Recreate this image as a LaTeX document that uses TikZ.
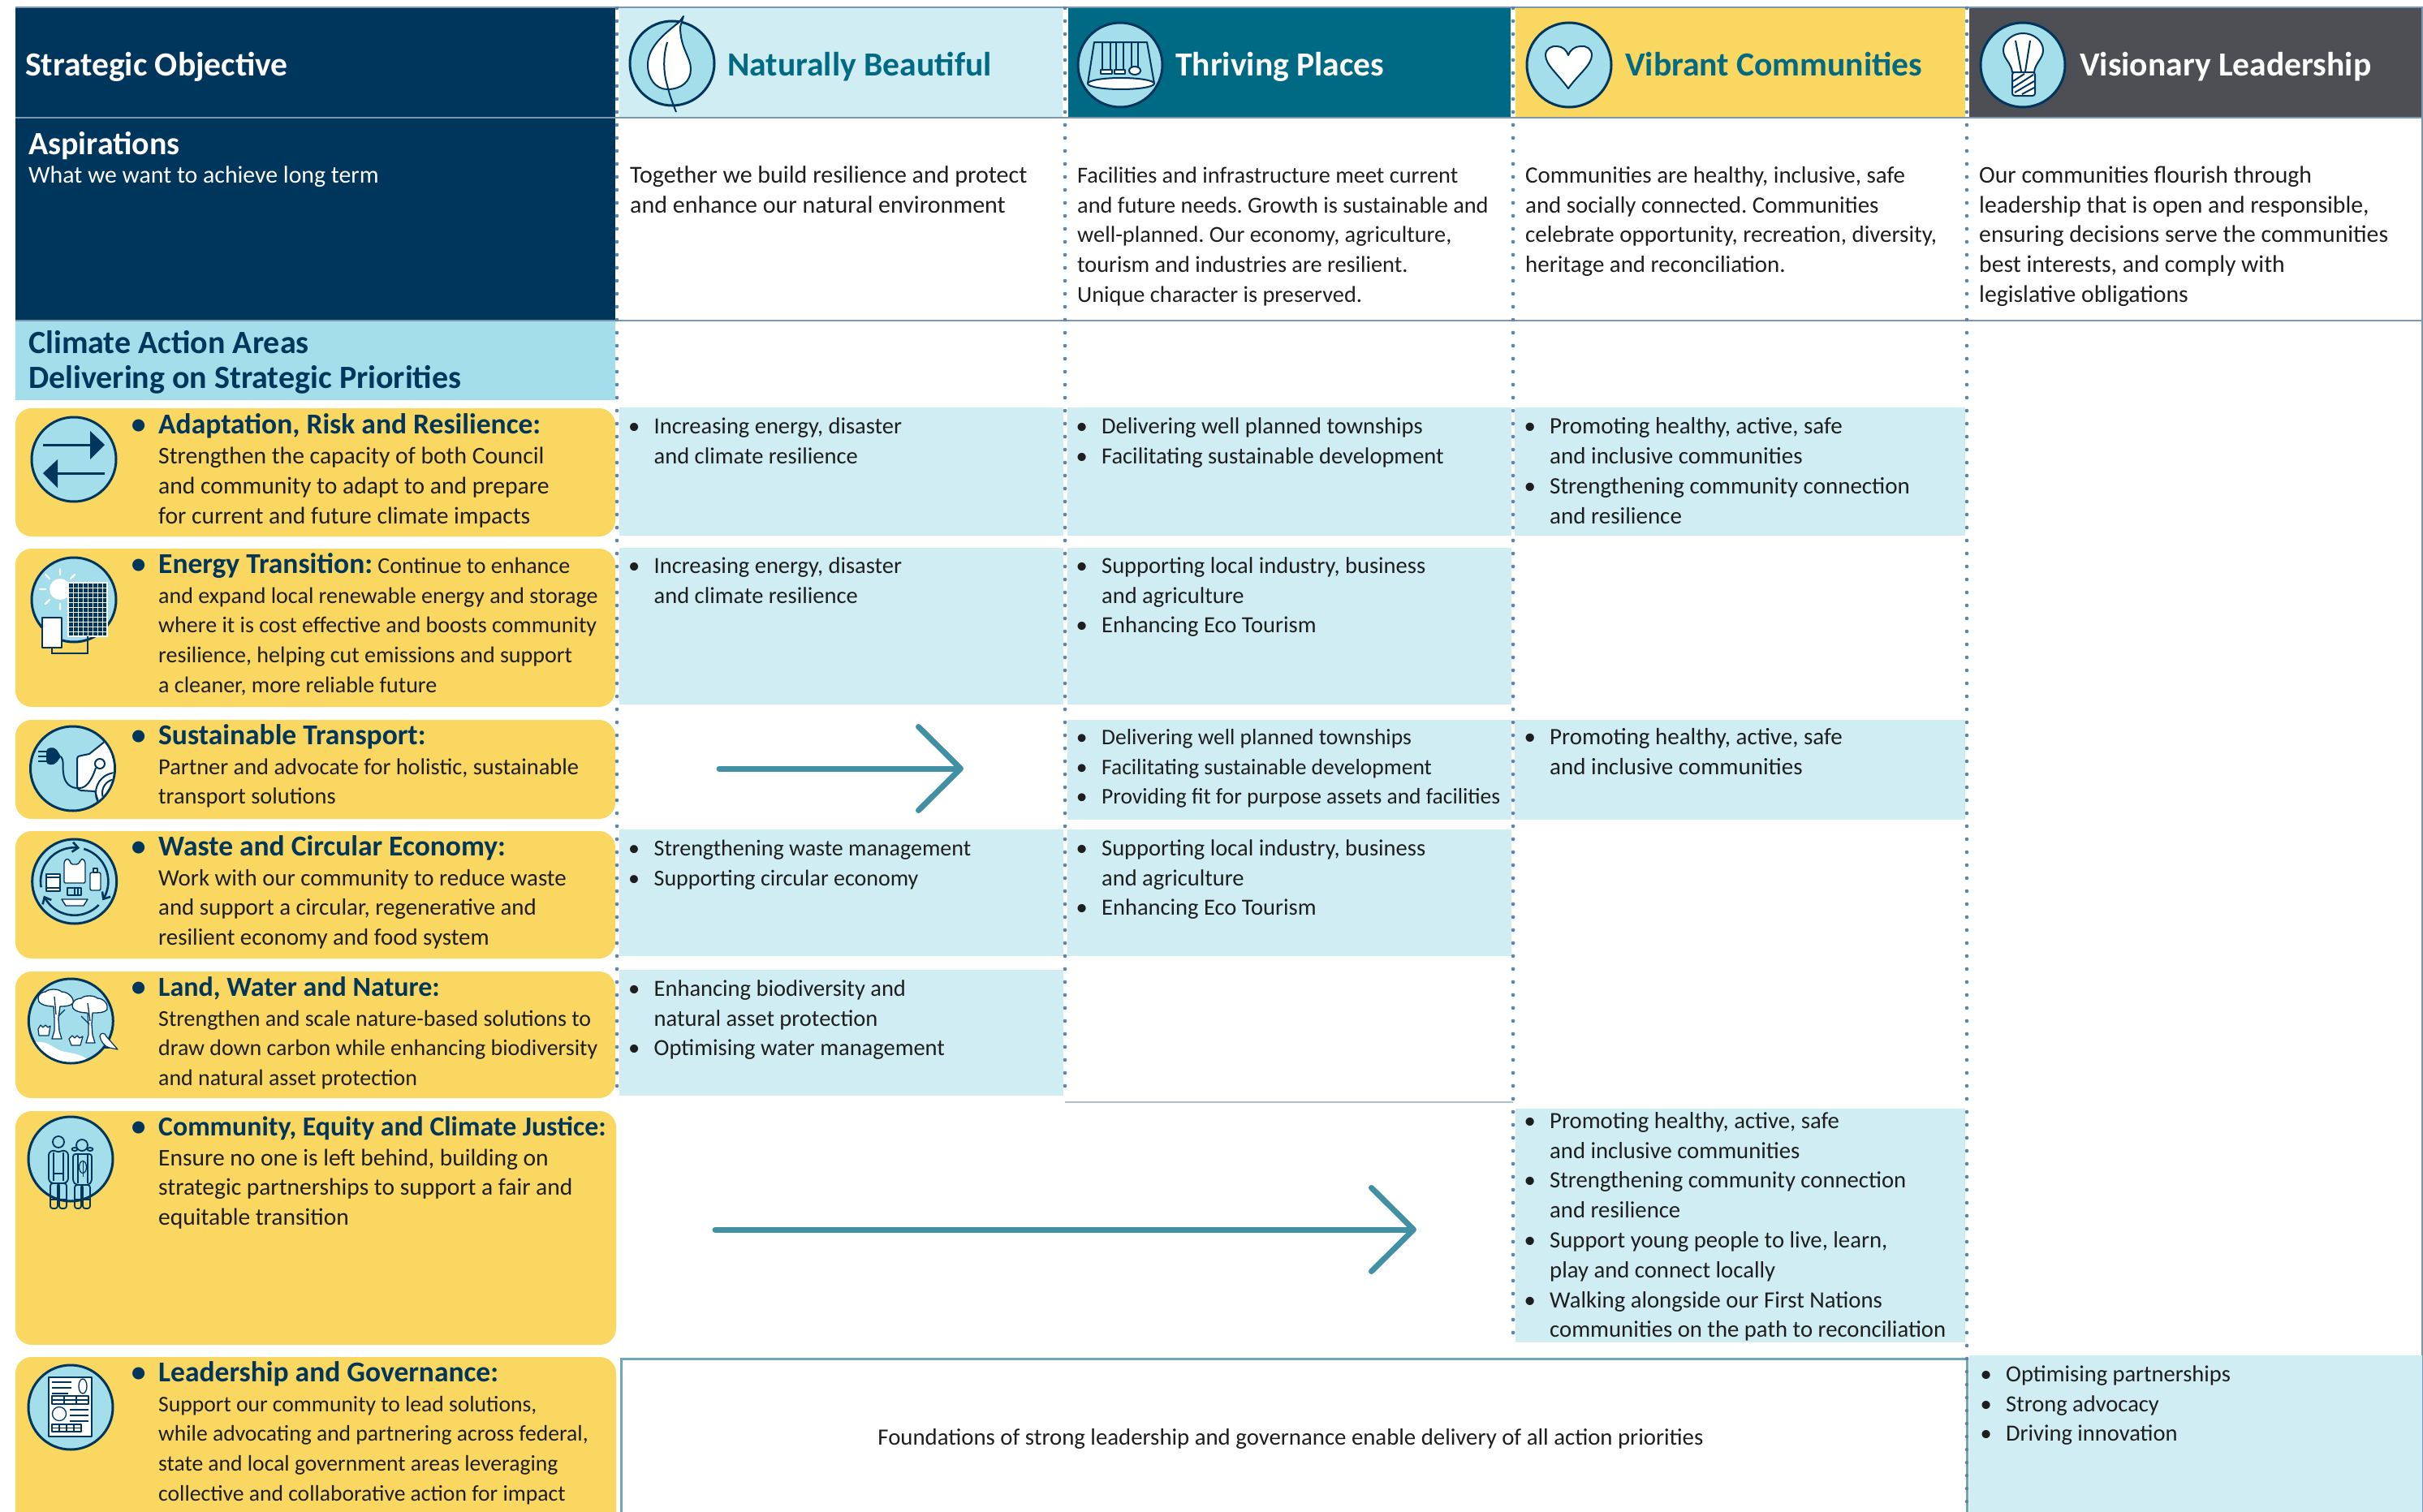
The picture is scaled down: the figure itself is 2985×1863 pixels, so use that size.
\documentclass[tikz,border=0pt]{standalone}
\usepackage{fontspec}
\setmainfont{Carlito}
\usetikzlibrary{arrows.meta}
\definecolor{navy}{HTML}{00355C}
\definecolor{band}{HTML}{A4DEEA}
\definecolor{pale}{HTML}{CFEDF3}
\definecolor{tealh}{HTML}{006A85}
\definecolor{yel}{HTML}{FAD760}
\definecolor{slate}{HTML}{4D4F54}
\definecolor{rule}{HTML}{7C98AE}
\definecolor{dotc}{HTML}{5F85A3}
\definecolor{arrc}{HTML}{4290A5}
\definecolor{boxl}{HTML}{6FA8BA}
\definecolor{ink}{HTML}{1E1E1E}
\newcommand\fs[1]{\fontsize{#1}{36.8}\selectfont}
\newcommand\fl{\rule{0pt}{30pt}}
\newcommand\hdf{\fontsize{35.5}{36.8}\selectfont\bfseries\color{navy}}
\newcommand\hd[1]{{\hdf #1}}
\newcommand\hdx[2]{{\hdf\fontsize{#1}{36.8}\selectfont #2}}
\newcommand\bl{\leavevmode\llap{\makebox[0pt][c]{\textbullet}\hskip24.5pt}}
\newcommand\hb{\leavevmode\llap{\makebox[0pt][c]{\hdf\textbullet}\hskip24.5pt}}
\frenchspacing
\tikzset{
  x=1pt,y=-1pt,
  bt/.style={anchor=north west,inner sep=0pt,yshift=30pt,align=left,font=\fs{28.5},text=ink},
  ht/.style={bt,font=\fontsize{41.6}{43}\selectfont\bfseries},
  ct/.style={bt,font=\fontsize{40}{43}\selectfont\bfseries,text=navy},
  yb/.style={fill=yel,rounded corners=20pt},
  cell/.style={fill=pale},
  dots/.style={draw=dotc,line width=4.6pt,line cap=round,dash pattern=on 0pt off 16pt},
  hair/.style={draw=rule,line width=1.5pt},
  arr/.style={draw=arrc,line width=7pt,line cap=round,-{Straight Barb[length=52pt,width=103pt,round]}},
  ic/.style={circle,draw=navy,fill=band,line width=3pt,minimum size=104pt,inner sep=0pt},
  il/.style={draw=navy,line width=2pt,line join=round},
  iw/.style={il,fill=white},
  iwl/.style={draw=white,line width=2.4pt,line cap=round},
  ca/.style={draw=navy,line width=2.6pt,-{Straight Barb[length=7pt,width=12pt]}},
}
\begin{document}
\begin{tikzpicture}
\useasboundingbox (0,0) rectangle (2985,1863);
\clip (0,0) rectangle (2985,1863);
\fill[white] (0,0) rectangle (2985,1863);
% header and left column
\fill[navy] (19,9) rectangle (758,395);
\fill[band] (19,395) rectangle (758,493);
\fill[pale] (763,10) rectangle (1309,145);
\fill[tealh] (1316,10) rectangle (1861,145);
\fill[yel] (1867,10) rectangle (2421,145);
\fill[slate] (2426,10) rectangle (2984,145);
% thin rules
\draw[hair] (19,9) -- (2984,9) -- (2984,1863);
\draw[hair] (19,145) -- (2984,145);
\draw[hair] (19,395) -- (2984,395);
\draw[draw=rule!60,line width=1.2pt] (1312,1358) -- (1864,1358);
% yellow objective boxes
\fill[yb] (19,503) rectangle (758,661);
\fill[yb] (19,676) rectangle (758,871);
\fill[yb] (19,887) rectangle (758,1009);
\fill[yb] (19,1024) rectangle (758,1181);
\fill[yb] (19,1197) rectangle (758,1353);
\fill[yb] (19,1369) rectangle (759,1657);
\fill[yb] (19,1672) rectangle (759,1900);
% pale cells
\fill[cell] (763,502) rectangle (1310,660);
\fill[cell] (1315,502) rectangle (1862,660);
\fill[cell] (1866,502) rectangle (2421,660);
\fill[cell] (763,675) rectangle (1310,868);
\fill[cell] (1315,675) rectangle (1862,868);
\fill[cell] (1315,887) rectangle (1862,1010);
\fill[cell] (1866,887) rectangle (2421,1010);
\fill[cell] (763,1022) rectangle (1310,1178);
\fill[cell] (1315,1022) rectangle (1862,1178);
\fill[cell] (763,1195) rectangle (1310,1350);
\fill[cell] (1867,1366) rectangle (2421,1654);
\fill[cell] (2426,1670) rectangle (2984,1863);
% foundations box
\node[draw=boxl,line width=3pt,fill=white,anchor=north west,minimum width=1658pt,minimum height=240pt,inner sep=0pt] (found) at (764,1673) {};
% dotted column rules
\draw[dots] (760,10) -- (760,1350);
\draw[dots] (1312,10) -- (1312,1350);
\draw[dots] (1864,10) -- (1864,1655);
\draw[dots] (2423,10) -- (2423,1863);
% arrows
\coordinate (a1s) at (886,947); \coordinate (a1e) at (1187,947);
\coordinate (a2s) at (881,1515); \coordinate (a2e) at (1745,1515);
\draw[arr] (a1s) -- (a1e);
\draw[arr] (a2s) -- (a2e);
% header texts
\node[ht,text=white] (so) at (31,93) {\fl Strategic Objective};
\node[ht,text=tealh] (nb) at (896,93) {\fl Naturally Beautiful};
\node[ht,text=white] (tp) at (1448,93) {\fl Thriving Places};
\node[ht,text=tealh] (vc) at (2002,93) {\fl Vibrant Communities};
\node[ht,text=white] (vl) at (2562,93) {\fl Visionary Leadership};
\node[ct,text=white] (asp) at (35,190) {\fl Aspirations};
\node[bt,text=white,font=\fs{29.8}] (aspsub) at (35,225) {\fl What we want to achieve long term};
\node[ct] (climate) at (35,435) {\fl Climate Action Areas\\Delivering on Strategic Priorities};
% aspirations
\node[bt,font=\fs{30}] (a1) at (776,225) {\fl Together we build resilience and protect\\and enhance our natural environment};
\node[bt,font=\fs{28.3}] (a2) at (1327,225) {\fl Facilities and infrastructure meet current\\and future needs. Growth is sustainable and\\well-planned. Our economy, agriculture,\\tourism and industries are resilient.\\Unique character is preserved.};
\node[bt,font=\fs{28.9}] (a3) at (1879,225) {\fl Communities are healthy, inclusive, safe\\and socially connected. Communities\\celebrate opportunity, recreation, diversity,\\heritage and reconciliation.};
\node[bt,font=\fs{29.7}] (a4) at (2438,225) {\fl Our communities flourish through\\leadership that is open and responsible,\\ensuring decisions serve the communities\\best interests, and comply with\\legislative obligations};
% objective texts
\node[bt,font=\fs{29.6}] (o1) at (195,534.5) {\fl\hb\hd{Adaptation, Risk and Resilience:}\\Strengthen the capacity of both Council\\and community to adapt to and prepare\\for current and future climate impacts};
\node[bt,font=\fs{28}] (o2) at (195,706) {\fl\hb\hd{Energy Transition:} Continue to enhance\\and expand local renewable energy and storage\\where it is cost effective and boosts community\\resilience, helping cut emissions and support\\a cleaner, more reliable future};
\node[bt,font=\fs{28.4}] (o3) at (195,917) {\fl\hb\hd{Sustainable Transport:}\\Partner and advocate for holistic, sustainable\\transport solutions};
\node[bt,font=\fs{28.9}] (o4) at (195,1054) {\fl\hb\hd{Waste and Circular Economy:}\\Work with our community to reduce waste\\and support a circular, regenerative and\\resilient economy and food system};
\node[bt,font=\fs{27.9}] (o5) at (195,1227) {\fl\hb\hdx{34}{Land, Water and Nature:}\\Strengthen and scale nature-based solutions to\\draw down carbon while enhancing biodiversity\\and natural asset protection};
\node[bt,font=\fs{29.5}] (o6) at (195,1399) {\fl\hb\hdx{33.8}{Community, Equity and Climate Justice:}\\Ensure no one is left behind, building on\\strategic partnerships to support a fair and\\equitable transition};
\node[bt,font=\fs{27.6}] (o7) at (195,1702) {\fl\hb\hd{Leadership and Governance:}\\Support our community to lead solutions,\\while advocating and partnering across federal,\\state and local government areas leveraging\\collective and collaborative action for impact};
% cell texts
\node[bt] (c11) at (805.5,534.5) {\fl\bl Increasing energy, disaster\\and climate resilience};
\node[bt] (c12) at (1357,534.5) {\fl\bl Delivering well planned townships\\\bl Facilitating sustainable development};
\node[bt,font=\fs{29}] (c13) at (1909,534.5) {\fl\bl Promoting healthy, active, safe\\and inclusive communities\\\bl Strengthening community connection\\and resilience};
\node[bt] (c21) at (805.5,706) {\fl\bl Increasing energy, disaster\\and climate resilience};
\node[bt] (c22) at (1357,706) {\fl\bl Supporting local industry, business\\and agriculture\\\bl Enhancing Eco Tourism};
\node[bt,font=\fs{27.5}] (c32) at (1357,917) {\fl\bl Delivering well planned townships\\\bl Facilitating sustainable development\\\bl Providing fit for purpose assets and facilities};
\node[bt,font=\fs{29}] (c33) at (1909,917) {\fl\bl Promoting healthy, active, safe\\and inclusive communities};
\node[bt,font=\fs{28}] (c41) at (805.5,1054) {\fl\bl Strengthening waste management\\\bl Supporting circular economy};
\node[bt] (c42) at (1357,1054) {\fl\bl Supporting local industry, business\\and agriculture\\\bl Enhancing Eco Tourism};
\node[bt] (c51) at (805.5,1227) {\fl\bl Enhancing biodiversity and\\natural asset protection\\\bl Optimising water management};
\node[bt,font=\fs{28.7}] (c63) at (1909,1390) {\fl\bl Promoting healthy, active, safe\\and inclusive communities\\\bl Strengthening community connection\\and resilience\\\bl Support young people to live, learn,\\play and connect locally\\\bl Walking alongside our First Nations\\communities on the path to reconciliation};
\node[bt] (c74) at (2471,1702) {\fl\bl Optimising partnerships\\\bl Strong advocacy\\\bl Driving innovation};
\node[bt,anchor=north,font=\fs{28.8}] (ft) at (1590,1780) {\fl Foundations of strong leadership and governance enable delivery of all action priorities};
% ---- header icons
\node[ic] (icnb) at (828,78) {};
\path[iw] (842,20) -- (837,27) .. controls (818,42) and (798,58) .. (798,80) .. controls (798,97) and (808,110) .. (822,110) .. controls (840,110) and (851,100) .. (851,85) .. controls (851,70) and (838,60) .. (838,33) -- cycle;
\draw[il] (822,52) .. controls (818,65) and (816,85) .. (822,105) .. controls (825,118) and (829,128) .. (833,138);
\node[ic] (ictp) at (1380,80) {};
\draw[il] (1340,103) -- (1348,52) -- (1413,52) -- (1422,103);
\draw[il] (1358,52) -- (1358,86) (1368,52) -- (1368,86) (1375,52) -- (1375,86) (1384,52) -- (1384,86) (1394,52) -- (1394,84) (1402,52) -- (1402,84);
\draw[iw] (1356,86) rectangle (1370,91);
\draw[iw] (1373,86) rectangle (1386,91);
\draw[iw] (1398,87) ellipse (7 and 5);
\draw[iw] (1381,103) ellipse (41 and 7);
\node[ic] (icvc) at (1933,80) {};
\path[iw] (1932,109) .. controls (1920,92) and (1904,80) .. (1904,68) .. controls (1904,60) and (1912,56) .. (1918,57) .. controls (1925,57) and (1930,62) .. (1932,68) .. controls (1934,62) and (1940,57) .. (1947,57) .. controls (1954,56) and (1961,60) .. (1961,68) .. controls (1961,80) and (1944,92) .. (1932,109) -- cycle;
\node[ic] (icvl) at (2492,80) {};
\path[iw] (2479,89) .. controls (2478,78) and (2468,72) .. (2468,62) .. controls (2468,50) and (2480,41) .. (2492,41) .. controls (2505,41) and (2517,50) .. (2517,62) .. controls (2517,72) and (2507,78) .. (2506,89) -- cycle;
\draw[il] (2483,50) -- (2490,88) (2501,50) -- (2495,88);
\draw[iw,rounded corners=3pt] (2479,89) rectangle (2507,118);
\draw[il] (2480,100) -- (2494,91) (2480,108) -- (2505,92) (2482,114) -- (2506,100) (2491,116) -- (2506,108);
% ---- objective icons
\node[ic] (ic1) at (91,566) {};
\draw[navy,line width=3pt] (53,548) -- (112,548) (70,583) -- (129,583);
\fill[navy] (129,548) -- (111,531) -- (111,566) -- cycle;
\fill[navy] (53,583) -- (71,566) -- (71,601) -- cycle;
\node[ic] (ic2) at (91,739) {};
\fill[white] (74,726) circle (13);
\draw[iwl] (74,701) -- (74,708) (74,744) -- (74,751) (49,726) -- (56,726) (56,708) -- (61,713) (92,708) -- (87,713) (56,744) -- (61,739);
\draw[draw=white,line width=1.5pt,fill=navy] (84,718) rectangle (132,784);
\foreach \gx in {90,96,...,128} \draw[white,line width=.7pt] (\gx,719) -- (\gx,783);
\foreach \gy in {724,730,...,780} \draw[white,line width=.7pt] (85,\gy) -- (131,\gy);
\draw[navy,line width=2pt] (64,798) -- (64,805) -- (108,805) -- (108,784);
\draw[iw] (52,761) rectangle (76,798);
% transport
\node[ic] (ic3) at (89.5,947) {};
\begin{scope}
\clip (89.5,947) circle (50.5);
\path[iw] (95,936) .. controls (95,932) and (97,931) .. (100,931) -- (110,929) -- (130,913) -- (150,930) -- (150,995) -- (122,990) -- (117,975) -- (100,974) .. controls (96,973) and (95,971) .. (95,968) -- cycle;
\draw[il] (143,977) circle (25);
\draw[il] (143,977) circle (17);
\end{scope}
\draw[il] (75,932) .. controls (79,936) and (77,945) .. (78,952) .. controls (79,965) and (87,972) .. (98,971) .. controls (106,971) and (113,962) .. (118,946);
\draw[iw] (123,941) circle (6);
\fill[navy] (57,926) .. controls (57,921) and (66,919) .. (70,924) -- (75,932) -- (70,939) .. controls (66,944) and (57,943) .. (57,938) -- cycle;
\draw[navy,line width=2.6pt] (47,926) -- (58,926) (47,932) -- (58,932) (47,938) -- (58,938);
% waste
\node[ic] (ic4) at (91.7,1086) {};
\draw[ca] plot[smooth,domain=190:81,samples=20] ({91.7+41.7*cos(\x)},{1086-41.7*sin(\x)});
\draw[ca] plot[smooth,domain=74:-34,samples=20] ({91.7+41.7*cos(\x)},{1086-41.7*sin(\x)});
\draw[ca] plot[smooth,domain=-44:-155,samples=20] ({91.7+41.7*cos(\x)},{1086-41.7*sin(\x)});
\path[iw,rounded corners=1.5pt,line width=1.4pt] (79,1088) -- (79,1062) -- (82,1058) -- (85,1059) -- (88,1065) -- (96,1065) -- (100,1059) -- (102,1058) -- (105,1062) -- (105,1088) -- cycle;
\draw[iw,rounded corners=2pt,line width=1.4pt] (111,1075) rectangle (124,1097);
\draw[iw,line width=1.2pt] (115,1070) rectangle (120,1075);
\draw[iw,line width=1.4pt] (57,1077) rectangle (74,1098);
\draw[il,line width=1.2pt] (57,1081) -- (74,1081) (57,1094) -- (74,1094);
\draw[il,line width=1.3pt] (83,1094) rectangle (100,1103);
\draw[il,line width=1.3pt] (92,1094) -- (92,1103) (96,1094) -- (96,1103);
\path[iw,line width=1.4pt] (76,1108) -- (108,1108) -- (103,1116) -- (81,1116) -- cycle;
% land
\node[ic] (ic5) at (87.3,1258) {};
\begin{scope}
\clip (87.3,1258) circle (50.5);
\path[fill=white] (38,1283) -- (52,1284) .. controls (64,1286) and (68,1294) .. (80,1296) .. controls (92,1298) and (102,1300) .. (108,1306) -- (100,1320) -- (50,1320) -- cycle;
\end{scope}
\draw[iw,line width=1.3pt] (66,1240) .. controls (54,1240) and (46,1236) .. (47,1230) .. controls (47,1225) and (52,1222) .. (56,1222) .. controls (60,1218) and (72,1218) .. (76,1222) .. controls (84,1222) and (92,1230) .. (90,1236) .. controls (86,1240) and (80,1240) .. (74,1240) -- (72,1255) -- (73,1270) -- (76,1280) -- (64,1280) -- (67,1270) -- (67,1255) -- cycle;
\draw[iw,line width=1.3pt] (108,1248) .. controls (96,1248) and (88,1244) .. (89,1238) .. controls (90,1232) and (96,1230) .. (100,1230) .. controls (104,1226) and (116,1226) .. (120,1230) .. controls (128,1230) and (134,1238) .. (132,1244) .. controls (128,1248) and (122,1248) .. (114,1248) -- (113,1262) -- (114,1275) -- (117,1285) -- (106,1285) -- (109,1275) -- (109,1262) -- cycle;
\draw[il,line width=1.3pt] (67,1228) -- (69,1250) (80,1244) -- (72,1252) (108,1236) -- (111,1258) (100,1252) -- (110,1262);
\path[iw,line width=1.2pt] (47,1268) -- (50,1263) -- (53,1266) -- (56,1263) -- (59,1266) -- (62,1264) -- (60,1276) -- (48,1276) -- cycle;
\path[iw,line width=1.2pt] (85,1280) -- (89,1276) -- (92,1279) -- (95,1276) -- (98,1279) -- (102,1277) -- (99,1288) -- (88,1288) -- cycle;
\draw[iw,line width=1.2pt] (123,1277) .. controls (123,1272) and (130,1272) .. (131,1277) -- (145,1293) -- (135,1291) .. controls (129,1290) and (124,1283) .. (123,1277) -- cycle;
\draw[navy,line width=1.2pt] (128,1291) -- (135,1291);
% people
\node[ic] (ic6) at (87,1428) {};
\begin{scope}[iw,line width=1.8pt]
\draw (72,1407) circle (7);
\draw[rounded corners=3pt] (62,1458) -- (62,1489) -- (71,1489) -- (71,1458) -- (73,1458) -- (73,1489) -- (82,1489) -- (82,1458) -- cycle;
\draw[rounded corners=3pt] (60,1420) -- (66,1417) -- (72,1420) -- (78,1417) -- (84,1420) -- (84,1455) -- (80,1458) -- (64,1458) -- (60,1455) -- cycle;
\draw (92,1416) ellipse (3.5 and 2) (111,1416) ellipse (3.5 and 2);
\draw (101,1411) circle (7);
\draw[rounded corners=3pt] (92,1460) -- (92,1489) -- (100,1489) -- (100,1460) -- (102,1460) -- (102,1489) -- (111,1489) -- (111,1460) -- cycle;
\draw[rounded corners=3pt] (90,1422) -- (113,1422) -- (113,1456) -- (109,1460) -- (94,1460) -- (90,1456) -- cycle;
\end{scope}
\draw[il,line width=1.4pt] (66,1420) -- (66,1455) (78,1420) -- (78,1455) (66,1446) -- (78,1446) (96,1423) -- (96,1458) (108,1423) -- (108,1458) (62,1478) -- (71,1478) (73,1478) -- (82,1478) (92,1478) -- (100,1478) (102,1478) -- (111,1478);
\draw[il,line width=1.2pt] (102,1438) ellipse (4.5 and 7.5);
\draw[il,line width=1pt] (102,1430) -- (102,1450);
% document
\node[ic] (ic7) at (87,1734) {};
\draw[iw] (60,1697) rectangle (113,1770);
\draw[il] (64,1703) -- (88,1703) (64,1710) -- (88,1710) (64,1717) -- (84,1717);
\draw[il,line width=1.3pt] (102,1708) ellipse (5 and 9);
\draw[il,line width=1.3pt] (64,1720) rectangle (109,1730) (64,1725) -- (109,1725) (79,1720) -- (79,1730) (94,1720) -- (94,1730);
\draw[il,line width=1.3pt] (73,1742) circle (8.5);
\draw[il,line width=1.3pt] (86,1737) -- (109,1737) (86,1744) -- (109,1744) (86,1751) -- (109,1751);
\draw[il,line width=1.3pt] (64,1755) rectangle (100,1764) (64,1759.5) -- (100,1759.5) (73,1755) -- (73,1764) (82,1755) -- (82,1764) (91,1755) -- (91,1764);
\end{tikzpicture}
\end{document}
